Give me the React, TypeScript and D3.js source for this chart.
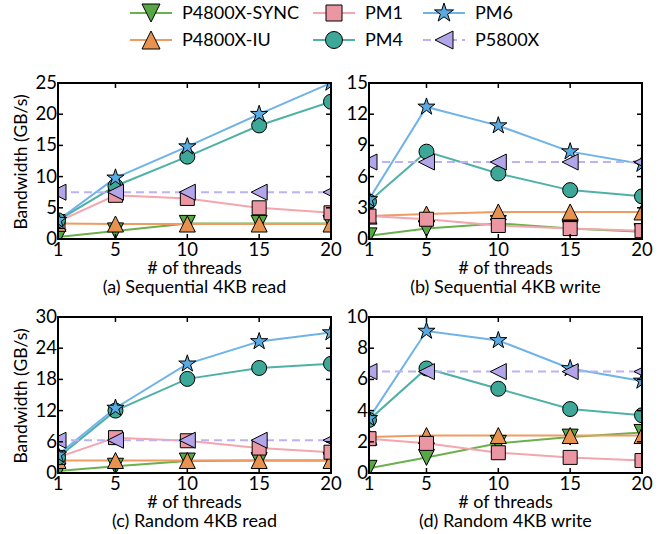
import React from 'react';
import * as d3 from 'd3';

const threads = [1, 5, 10, 15, 20];

const seriesNames = ['P4800X-SYNC', 'P4800X-IU', 'PM1', 'PM4', 'PM6', 'P5800X'];
const lineColors = ['#6ab04c', '#ef9b62', '#f4a5ae', '#4fb1a6', '#6fb3e8', '#bdb2f2'];
const fillColors = ['#57a744', '#e8924f', '#eb97a3', '#3ea898', '#5aaae2', '#b3a5ea'];
const markers = ['tridown', 'triup', 'square', 'circle', 'star', 'trileft'];

// (a) Sequential 4KB read
const seqReadSync = [0.3, 1.3, 2.5, 2.5, 2.5];
const seqReadIU = [2.5, 2.4, 2.4, 2.4, 2.4];
const seqReadPM1 = [2.8, 7.0, 6.5, 5.0, 4.2];
const seqReadPM4 = [3.0, 8.5, 13.2, 18.2, 22.0];
const seqReadPM6 = [3.0, 9.8, 14.8, 20.0, 25.0];
const seqReadP5800 = [7.5, 7.5, 7.5, 7.5, 7.5];

// (b) Sequential 4KB write
const seqWriteSync = [0.3, 1.0, 1.5, 1.0, 0.7];
const seqWriteIU = [2.2, 2.4, 2.6, 2.6, 2.6];
const seqWritePM1 = [2.2, 1.9, 1.3, 1.0, 0.8];
const seqWritePM4 = [3.6, 8.4, 6.3, 4.7, 4.1];
const seqWritePM6 = [3.8, 12.7, 10.9, 8.4, 7.2];
const seqWriteP5800 = [7.4, 7.4, 7.4, 7.4, 7.4];

// (c) Random 4KB read
const randReadSync = [0.4, 1.3, 2.3, 2.4, 2.4];
const randReadIU = [2.4, 2.4, 2.4, 2.4, 2.4];
const randReadPM1 = [3.0, 6.8, 6.2, 4.8, 4.0];
const randReadPM4 = [3.0, 12.0, 18.1, 20.2, 21.0];
const randReadPM6 = [3.5, 12.5, 21.0, 25.3, 27.0];
const randReadP5800 = [6.3, 6.3, 6.3, 6.3, 6.3];

// (d) Random 4KB write
const randWriteSync = [0.3, 1.0, 1.9, 2.3, 2.6];
const randWriteIU = [2.3, 2.4, 2.4, 2.4, 2.4];
const randWritePM1 = [2.2, 1.9, 1.3, 1.0, 0.8];
const randWritePM4 = [3.4, 6.7, 5.4, 4.1, 3.7];
const randWritePM6 = [3.5, 9.1, 8.5, 6.7, 5.9];
const randWriteP5800 = [6.5, 6.5, 6.5, 6.5, 6.5];

const panels = [
  { id: 'a', caption: '(a) Sequential 4KB read', yMax: 25, yTicks: [0, 5, 10, 15, 20, 25],
    series: [seqReadSync, seqReadIU, seqReadPM1, seqReadPM4, seqReadPM6, seqReadP5800] },
  { id: 'b', caption: '(b) Sequential 4KB write', yMax: 15, yTicks: [0, 3, 6, 9, 12, 15],
    series: [seqWriteSync, seqWriteIU, seqWritePM1, seqWritePM4, seqWritePM6, seqWriteP5800] },
  { id: 'c', caption: '(c) Random 4KB read', yMax: 30, yTicks: [0, 6, 12, 18, 24, 30],
    series: [randReadSync, randReadIU, randReadPM1, randReadPM4, randReadPM6, randReadP5800] },
  { id: 'd', caption: '(d) Random 4KB write', yMax: 10, yTicks: [0, 2, 4, 6, 8, 10],
    series: [randWriteSync, randWriteIU, randWritePM1, randWritePM4, randWritePM6, randWriteP5800] },
];

const boxes = [
  { x: 58, y: 83, w: 273, h: 156 },
  { x: 369, y: 83, w: 273, h: 156 },
  { x: 58, y: 317, w: 273, h: 156 },
  { x: 369, y: 317, w: 273, h: 156 },
];

const font = 'Lato, "Open Sans", sans-serif';

function markerPath(kind: string, r: number) {
  if (kind === 'circle') return d3.symbol(d3.symbolCircle, Math.PI * r * r)();
  if (kind === 'square') return `M${-r},${-r}H${r}V${r}H${-r}Z`;
  if (kind === 'triup') return `M0,${-r}L${r},${r}L${-r},${r}Z`;
  if (kind === 'tridown') return `M0,${r}L${r},${-r}L${-r},${-r}Z`;
  if (kind === 'trileft') return `M${-r},0L${r},${-r}L${r},${r}Z`;
  // star
  const pts: [number, number][] = [];
  const ri = r * 0.381966;
  for (let i = 0; i < 10; i++) {
    const a = (Math.PI / 5) * i - Math.PI / 2;
    const rr = i % 2 === 0 ? r : ri;
    pts.push([rr * Math.cos(a), rr * Math.sin(a)]);
  }
  return 'M' + pts.map(p => p.join(',')).join('L') + 'Z';
}

const markerSize: any = { circle: 7.5, square: 7, triup: 8, tridown: 8, trileft: 8, star: 9 };

function Panel({ p, box, showYLabel }: any) {
  const x = d3.scaleLinear().domain([1, 20]).range([box.x, box.x + box.w]);
  const y = d3.scaleLinear().domain([0, p.yMax]).range([box.y + box.h, box.y]);
  const line = d3.line<number>().x((_, i) => x(threads[i])).y(d => y(d));
  const clipId = 'clip-' + p.id;
  return (
    <g>
      <clipPath id={clipId}>
        <rect x={box.x} y={box.y} width={box.w} height={box.h} />
      </clipPath>
      <g clipPath={`url(#${clipId})`}>
        {p.series.map((s: number[], k: number) => (
          <path key={'l' + k} d={line(s) || ''} fill="none" stroke={lineColors[k]} strokeWidth={2}
            strokeDasharray={k === 5 ? '8,5' : undefined} />
        ))}
        {p.series.map((s: number[], k: number) => (
          <g key={'m' + k}>
            {s.map((v, i) => (
              <path key={i} transform={`translate(${x(threads[i])},${y(v)})`}
                d={markerPath(markers[k], markerSize[markers[k]]) || ''}
                fill={fillColors[k]} stroke="#000" strokeWidth={1} />
            ))}
          </g>
        ))}
      </g>
      {/* ticks, inward on all sides */}
      {threads.map(t => (
        <g key={'xt' + t}>
          <line x1={x(t)} x2={x(t)} y1={box.y + box.h} y2={box.y + box.h - 5} stroke="#000" strokeWidth={1.5} />
          <line x1={x(t)} x2={x(t)} y1={box.y} y2={box.y + 5} stroke="#000" strokeWidth={1.5} />
          <text x={x(t)} y={box.y + box.h + 17} textAnchor="middle" fontSize={18.5} fontFamily={font}>{t}</text>
        </g>
      ))}
      {p.yTicks.map((t: number) => (
        <g key={'yt' + t}>
          <line x1={box.x} x2={box.x + 5} y1={y(t)} y2={y(t)} stroke="#000" strokeWidth={1.5} />
          <line x1={box.x + box.w} x2={box.x + box.w - 5} y1={y(t)} y2={y(t)} stroke="#000" strokeWidth={1.5} />
          <text x={box.x - 1} y={y(t) + 6} textAnchor="end" fontSize={18.5} fontFamily={font}>{t}</text>
        </g>
      ))}
      <rect x={box.x} y={box.y} width={box.w} height={box.h} fill="none" stroke="#000" strokeWidth={2} />
      <text x={box.x + box.w / 2} y={box.y + box.h + 35} textAnchor="middle" fontSize={18} fontFamily={font}># of threads</text>
      <text x={box.x + box.w / 2} y={box.y + box.h + 54} textAnchor="middle" fontSize={18} fontFamily={font}>{p.caption}</text>
      {showYLabel && (
        <text transform={`translate(${box.x - 31},${box.y + box.h / 2 + 1}) rotate(-90)`} textAnchor="middle"
          fontSize={17.5} fontFamily={font}>Bandwidth (GB/s)</text>
      )}
    </g>
  );
}

const legendCols = [130, 313, 423];
const legendRows = [13, 40];

export default function App() {
  return (
    <svg width={670} height={534} style={{ display: 'block', position: 'absolute', left: 0, top: 0 }}>
      <rect width={670} height={534} fill="#fff" />
      {seriesNames.map((name, k) => {
        const lx = legendCols[Math.floor(k / 2)];
        const ly = legendRows[k % 2];
        return (
          <g key={name}>
            <line x1={lx} x2={lx + 42} y1={ly} y2={ly} stroke={lineColors[k]} strokeWidth={2}
              strokeDasharray={k === 5 ? '8,5' : undefined} />
            <path transform={`translate(${lx + 21},${ly})`} d={markerPath(markers[k], markerSize[markers[k]] + 1) || ''}
              fill={fillColors[k]} stroke="#000" strokeWidth={1} />
            <text x={lx + 52} y={ly + 6} fontSize={18} fontFamily={font}>{name}</text>
          </g>
        );
      })}
      {panels.map((p, i) => (
        <Panel key={p.id} p={p} box={boxes[i]} showYLabel={i % 2 === 0} />
      ))}
    </svg>
  );
}
